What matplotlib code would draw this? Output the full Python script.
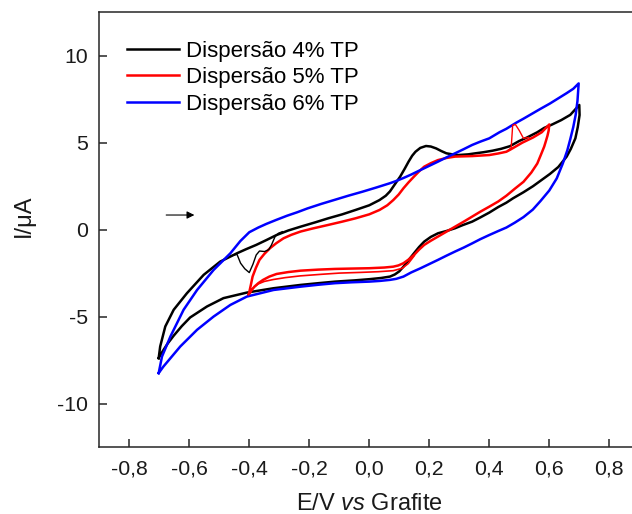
import matplotlib
matplotlib.use("Agg")
import matplotlib.pyplot as plt
from matplotlib.ticker import FixedLocator, FuncFormatter

plt.rcParams['font.family'] = ['Liberation Sans', 'DejaVu Sans']
plt.rcParams['mathtext.fontset'] = 'custom'
plt.rcParams['mathtext.it'] = 'Liberation Sans:italic'
plt.rcParams['mathtext.rm'] = 'Liberation Sans'

# ---- voltammograms: anodic (forward) and cathodic (reverse) branches ----
# Dispersao 4% TP
e4_fwd = [-0.702, -0.697, -0.68, -0.652, -0.608, -0.552, -0.497, -0.441, -0.41, -0.377,
          -0.343, -0.309, -0.27, -0.229, -0.18, -0.137, -0.09, -0.046, 0.0, 0.034,
          0.055, 0.069, 0.085, 0.103, 0.118, 0.131, 0.143, 0.154, 0.17, 0.189,
          0.205, 0.223, 0.24, 0.257, 0.28, 0.297, 0.33, 0.354, 0.38, 0.411,
          0.44, 0.469, 0.50, 0.526, 0.56, 0.583, 0.61, 0.64, 0.67, 0.70]
i4_fwd = [-7.39, -6.72, -5.57, -4.61, -3.66, -2.6, -1.84, -1.36, -1.12, -0.88,
          -0.6, -0.31, -0.05, 0.17, 0.42, 0.65, 0.88, 1.13, 1.4, 1.7,
          1.95, 2.2, 2.6, 3.05, 3.5, 3.91, 4.25, 4.48, 4.7, 4.81,
          4.78, 4.67, 4.52, 4.39, 4.32, 4.29, 4.33, 4.39, 4.45, 4.54,
          4.65, 4.8, 5.1, 5.3, 5.6, 5.85, 6.05, 6.3, 6.6, 7.17]
e4_rev = [0.70, 0.701, 0.695, 0.687, 0.672, 0.658, 0.63, 0.602, 0.574, 0.546,
          0.514, 0.479, 0.457, 0.43, 0.40, 0.37, 0.343, 0.31, 0.286, 0.257,
          0.229, 0.205, 0.183, 0.166, 0.149, 0.131, 0.114, 0.10, 0.085, 0.069,
          0.04, 0.0, -0.05, -0.114, -0.17, -0.229, -0.319, -0.408, -0.486, -0.541,
          -0.597, -0.625, -0.652, -0.672, -0.686, -0.697, -0.702]
i4_rev = [7.17, 6.59, 5.9, 5.25, 4.65, 4.2, 3.6, 3.2, 2.85, 2.5,
          2.15, 1.8, 1.55, 1.3, 0.98, 0.7, 0.46, 0.25, 0.08, -0.08,
          -0.21, -0.42, -0.69, -1.0, -1.36, -1.75, -2.13, -2.4, -2.58, -2.70,
          -2.78, -2.85, -2.92, -2.99, -3.08, -3.18, -3.37, -3.62, -3.94, -4.42,
          -5.05, -5.55, -6.1, -6.55, -6.92, -7.22, -7.39]
# first cycle of the 4% dispersion (reduction dip near -0.4 V)
e4_dip = [-0.46, -0.441, -0.429, -0.415, -0.40, -0.388, -0.377, -0.366, -0.349,
          -0.335, -0.326, -0.314, -0.303, -0.29]
i4_dip = [-1.5, -1.42, -1.93, -2.25, -2.47, -2.0, -1.46, -1.23, -1.26,
          -1.15, -0.88, -0.40, -0.21, -0.12]

# Dispersao 5% TP
e5_fwd = [-0.402, -0.395, -0.389, -0.378, -0.366, -0.35, -0.331, -0.31, -0.286, -0.26,
          -0.229, -0.19, -0.137, -0.09, -0.046, 0.0, 0.034, 0.06, 0.080, 0.098,
          0.114, 0.131, 0.149, 0.166, 0.183, 0.205, 0.229, 0.257, 0.286, 0.343,
          0.40, 0.43, 0.457, 0.47, 0.49, 0.51, 0.546, 0.575, 0.60]
i5_fwd = [-3.75, -3.2, -2.70, -2.2, -1.74, -1.4, -1.07, -0.78, -0.50, -0.3,
          -0.11, 0.06, 0.27, 0.46, 0.65, 0.88, 1.13, 1.4, 1.70, 2.02,
          2.38, 2.72, 3.05, 3.35, 3.62, 3.82, 4.0, 4.12, 4.2, 4.23,
          4.29, 4.38, 4.48, 4.6, 4.8, 5.0, 5.3, 5.6, 6.05]
e5_rev = [0.60, 0.598, 0.594, 0.588, 0.583, 0.572, 0.56, 0.54, 0.514, 0.485,
          0.457, 0.43, 0.40, 0.37, 0.343, 0.315, 0.286, 0.257, 0.229, 0.205,
          0.183, 0.166, 0.149, 0.131, 0.114, 0.097, 0.08, 0.05, 0.0, -0.06,
          -0.114, -0.17, -0.229, -0.27, -0.309, -0.333, -0.354, -0.37, -0.383, -0.393,
          -0.402]
i5_rev = [6.05, 5.7, 5.4, 5.05, 4.77, 4.3, 3.8, 3.28, 2.75, 2.35,
          1.95, 1.62, 1.32, 1.03, 0.75, 0.46, 0.17, -0.12, -0.40, -0.64,
          -0.88, -1.15, -1.46, -1.72, -1.93, -2.06, -2.13, -2.18, -2.22, -2.24,
          -2.26, -2.3, -2.36, -2.44, -2.55, -2.7, -2.89, -3.08, -3.28, -3.5,
          -3.75]
# later cycle of the 5% dispersion, cathodic plateau sits lower
e5_rev2 = [0.15, 0.13, 0.11, 0.08, 0.03, -0.03, -0.1, -0.16, -0.23, -0.28,
           -0.32, -0.35, -0.37, -0.39, -0.402]
i5_rev2 = [-1.5, -1.95, -2.22, -2.36, -2.42, -2.46, -2.5, -2.57, -2.66, -2.76,
           -2.87, -2.98, -3.12, -3.4, -3.75]
# oxidation spike in one cycle of the 5% dispersion
e5_spike = [0.462, 0.473, 0.478, 0.487, 0.50, 0.514, 0.53]
i5_spike = [4.55, 4.7, 6.0, 6.05, 5.7, 5.25, 5.3]

# Dispersao 6% TP
e6_fwd = [-0.702, -0.691, -0.663, -0.619, -0.574, -0.519, -0.463, -0.43, -0.40, -0.37,
          -0.343, -0.31, -0.274, -0.24, -0.206, -0.16, -0.114, -0.07, -0.023, 0.023,
          0.069, 0.09, 0.114, 0.14, 0.171, 0.2, 0.229, 0.257, 0.286, 0.315,
          0.343, 0.37, 0.40, 0.434, 0.457, 0.49, 0.514, 0.546, 0.571, 0.602,
          0.63, 0.658, 0.68, 0.698]
i6_fwd = [-8.25, -7.3, -6.15, -4.61, -3.47, -2.32, -1.36, -0.66, -0.15, 0.12,
          0.33, 0.56, 0.8, 1.0, 1.22, 1.48, 1.72, 1.95, 2.18, 2.42,
          2.67, 2.8, 2.97, 3.17, 3.43, 3.67, 3.91, 4.15, 4.39, 4.63,
          4.87, 5.06, 5.25, 5.6, 5.8, 6.15, 6.38, 6.7, 6.95, 7.25,
          7.55, 7.85, 8.1, 8.41]
e6_rev = [0.698, 0.694, 0.688, 0.68, 0.67, 0.66, 0.645, 0.625, 0.60, 0.571,
          0.545, 0.514, 0.485, 0.457, 0.43, 0.40, 0.37, 0.343, 0.315, 0.286,
          0.257, 0.229, 0.2, 0.171, 0.14, 0.114, 0.09, 0.069, 0.035, 0.0,
          -0.06, -0.114, -0.17, -0.229, -0.319, -0.408, -0.463, -0.519, -0.574, -0.63,
          -0.686, -0.702]
i6_rev = [8.41, 7.4, 6.6, 5.9, 5.2, 4.55, 3.8, 2.95, 2.25, 1.65,
          1.15, 0.72, 0.4, 0.12, -0.08, -0.31, -0.55, -0.79, -1.03, -1.26,
          -1.5, -1.74, -1.98, -2.22, -2.46, -2.70, -2.83, -2.89, -2.95, -2.99,
          -3.03, -3.08, -3.17, -3.28, -3.47, -3.85, -4.33, -5.0, -5.76, -6.72,
          -7.87, -8.25]

labels = ['Dispersão 4% TP', 'Dispersão 5% TP', 'Dispersão 6% TP']
colors = ['#000000', '#ff0000', '#0000ff']

# scan direction arrow
arrow_e = [-0.677, -0.583]
arrow_i = [0.84, 0.84]

xticks = [-0.8, -0.6, -0.4, -0.2, 0.0, 0.2, 0.4, 0.6, 0.8]
yticks = [-10, -5, 0, 5, 10]

fig = plt.figure(figsize=(6.32, 5.14), dpi=100)
ax = fig.add_axes([0.1571, 0.1304, 0.8544, 0.8457])

lw = 1.8
loops = [(e4_fwd + e4_rev, i4_fwd + i4_rev),
         (e5_fwd + e5_rev, i5_fwd + i5_rev),
         (e6_fwd + e6_rev, i6_fwd + i6_rev)]
for (e, i), c, lab in zip(loops, colors, labels):
    ax.plot(e, i, color=c, lw=lw, label=lab, solid_joinstyle='round')
ax.plot(e5_rev2, i5_rev2, color=colors[1], lw=1.2)
ax.plot(e4_dip, i4_dip, color=colors[0], lw=1.0)
ax.plot(e5_spike, i5_spike, color=colors[1], lw=1.0)

ax.annotate('', xy=(arrow_e[1], arrow_i[1]), xytext=(arrow_e[0], arrow_i[0]),
            arrowprops=dict(arrowstyle='-|>', color='black', lw=0.8,
                            mutation_scale=11, shrinkA=0, shrinkB=0))

ax.set_xlim(-0.9, 0.9)
ax.set_ylim(-12.5, 12.5)
ax.xaxis.set_major_locator(FixedLocator(xticks))
ax.yaxis.set_major_locator(FixedLocator(yticks))
ax.xaxis.set_major_formatter(FuncFormatter(lambda v, p: f"{v:.1f}".replace('.', ',')))
ax.yaxis.set_major_formatter(FuncFormatter(lambda v, p: f"{v:.0f}"))
ax.tick_params(axis='both', direction='in', length=6, width=1.1, color='#262626',
               labelsize=15.3, labelcolor='#1a1a1a')
ax.tick_params(axis='x', pad=9)
ax.tick_params(axis='y', pad=8)
ax.spines['right'].set_visible(False)
for s in ['left', 'bottom', 'top']:
    ax.spines[s].set_linewidth(1.1)
    ax.spines[s].set_color('#262626')

ax.set_xlabel(r'E/V $\mathit{vs}$ Grafite', fontsize=17, color='#1a1a1a')
ax.set_ylabel('I/\u03bcA', fontsize=17, color='#1a1a1a')
ax.xaxis.set_label_coords(0.5, -0.105)
ax.yaxis.set_label_coords(-0.12, 0.532)

ax.legend(loc='upper left', bbox_to_anchor=(0.2014, 0.921), bbox_transform=fig.transFigure,
          frameon=False, fontsize=16, handlelength=2.34, handletextpad=0.29,
          labelspacing=0.25, borderpad=0, borderaxespad=0)

fig.savefig('out.png', dpi=100)
